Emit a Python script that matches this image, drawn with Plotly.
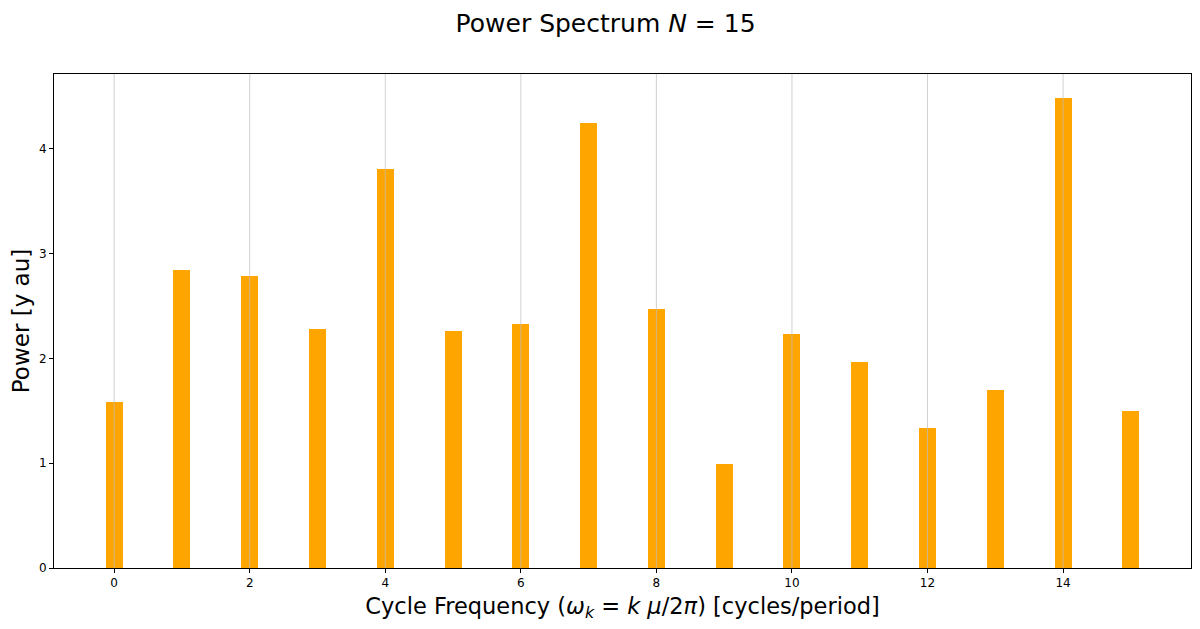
import plotly.graph_objects as go

# power spectrum values
freq = list(range(16))
power = [1.58, 2.84, 2.79, 2.28, 3.81, 2.26, 2.33, 4.25,
         2.47, 0.99, 2.23, 1.97, 1.34, 1.70, 4.49, 1.50]
xticks = [0, 2, 4, 6, 8, 10, 12, 14]
yticks = [0, 1, 2, 3, 4]

bar_w = 0.25
fig = go.Figure(go.Bar(x=freq, y=power, width=bar_w,
                       marker=dict(color="orange", line=dict(width=0))))

# matplotlib-like autoscale (5% margins)
xlo = freq[0] - bar_w / 2
xhi = freq[-1] + bar_w / 2
pad = 0.05 * (xhi - xlo)
ymax = max(power) * 1.05

# vertical grid drawn on top of the bars, like the original
for t in xticks:
    fig.add_shape(type="line", xref="x", yref="paper", x0=t, x1=t, y0=0, y1=1,
                  line=dict(color="rgba(190,190,190,0.7)", width=1), layer="above")

font = "DejaVu Sans"
# margins account for the ~7px page offset of the html body
fig.update_layout(
    width=1200, height=629,
    paper_bgcolor="white", plot_bgcolor="white",
    margin=dict(l=46, r=17, t=66, b=69, autoexpand=False),
    font=dict(family=font, color="black"),
    title=dict(text="Power Spectrum <i>N</i> = 15", x=0.498, xanchor="center",
               xref="container", yref="container", y=0.975, yanchor="middle",
               font=dict(size=25)),
    showlegend=False,
    bargap=0,
)
fig.update_xaxes(range=[xlo - pad, xhi + pad], tickvals=xticks, automargin=False,
                 showgrid=False, zeroline=False,
                 showline=True, linecolor="black", linewidth=1, mirror=True,
                 ticks="outside", ticklen=4, tickcolor="black",
                 tickfont=dict(size=12),
                 title=dict(text="Cycle Frequency (<i>ω<sub>k</sub></i> = <i>k μ</i>/2<i>π</i>) [cycles/period]",
                            font=dict(size=22.5), standoff=8))
fig.update_yaxes(range=[0, ymax], tickvals=yticks, automargin=False,
                 showgrid=False, zeroline=False,
                 showline=True, linecolor="black", linewidth=1, mirror=True,
                 ticks="outside", ticklen=4, tickcolor="black",
                 tickfont=dict(size=12),
                 title=dict(text="Power [y au]", font=dict(size=23), standoff=7))

fig.write_html("out.html")
